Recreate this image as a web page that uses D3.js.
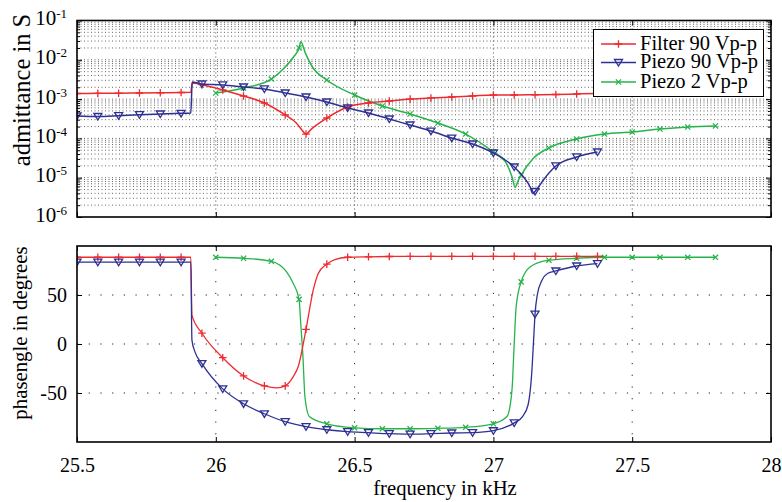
<!DOCTYPE html>
<html>
<head>
<meta charset="utf-8">
<script src="https://cdn.jsdelivr.net/npm/d3@7"></script>
<style>
  body { margin: 0; background: #fff; }
  svg { display: block; }
  svg text { font-family: "Liberation Serif", "Times New Roman", Times, "DejaVu Serif", serif; }
</style>
</head>
<body>
<div id="chart"></div>
<script>
// ---- data ----
var xTicks = [25.5, 26, 26.5, 27, 27.5, 28];
var xTickLabels = ["25.5", "26", "26.5", "27", "27.5", "28"];
var admDecades = [1e-6, 1e-5, 1e-4, 1e-3, 1e-2, 1e-1];
var admExps = ["-6", "-5", "-4", "-3", "-2", "-1"];
var phaseTicks = [-50, 0, 50];

var seriesNames = ["Filter 90 Vp-p", "Piezo 90 Vp-p", "Piezo 2 Vp-p"];
var seriesColors = ["#ee2a2e", "#2e3192", "#27b34b"];

// marker positions (kHz)
var markRB = [25.5, 25.575, 25.65, 25.725, 25.8, 25.875, 25.95, 26.025, 26.1, 26.175,
  26.25, 26.325, 26.4, 26.475, 26.55, 26.625, 26.7, 26.775, 26.85, 26.925,
  27.0, 27.075, 27.15, 27.225, 27.3, 27.375];
var markG = [26.0, 26.1, 26.2, 26.3, 26.4, 26.5, 26.6, 26.7, 26.8, 26.9, 27.0,
  27.1, 27.2, 27.3, 27.4, 27.5, 27.6, 27.7, 27.8];

// Filter 90 Vp-p
var filterAdmF = [25.5, 25.575, 25.65, 25.725, 25.8, 25.875, 25.91, 25.915, 25.95, 26.025,
  26.1, 26.175, 26.25, 26.29, 26.31, 26.325, 26.345, 26.4, 26.475, 26.55, 26.625, 26.7,
  26.775, 26.85, 26.925, 27.0, 27.075, 27.15, 27.225, 27.3, 27.375, 27.395];
var filterAdm = [1.39e-3, 1.40e-3, 1.41e-3, 1.43e-3, 1.45e-3, 1.47e-3, 1.49e-3, 2.57e-3, 2.33e-3, 1.71e-3,
  1.20e-3, 7.96e-4, 3.94e-4, 2.46e-4, 1.64e-4, 1.29e-4, 1.75e-4, 3.30e-4, 6.29e-4, 7.96e-4, 8.95e-4, 1.0e-3,
  1.07e-3, 1.13e-3, 1.20e-3, 1.27e-3, 1.27e-3, 1.29e-3, 1.31e-3, 1.35e-3, 1.39e-3, 1.40e-3];
var filterPhF = [25.5, 25.575, 25.65, 25.725, 25.8, 25.875, 25.91, 25.914, 25.95, 26.025,
  26.1, 26.175, 26.22, 26.25, 26.279, 26.297, 26.325, 26.351, 26.369, 26.4, 26.429, 26.475,
  26.55, 26.625, 26.7, 26.775, 26.85, 26.925, 27.0, 27.075, 27.15, 27.225, 27.3, 27.375, 27.395];
var filterPh = [88.5, 88.5, 88.5, 88.5, 88.5, 88.5, 88.5, 29.5, 11, -14,
  -32.6, -42.7, -44.8, -42.7, -33.3, -23, 15, 55, 72, 81.5, 86.2, 88.5,
  89, 89.3, 89.5, 89.5, 89.5, 89.5, 89.5, 89.5, 89.5, 89.5, 89.5, 89.5, 89.5];

// Piezo 90 Vp-p
var piezo90AdmF = [25.5, 25.575, 25.65, 25.725, 25.8, 25.875, 25.91, 25.915, 25.95, 26.025,
  26.1, 26.175, 26.25, 26.325, 26.4, 26.475, 26.55, 26.625, 26.7, 26.775, 26.85, 26.925,
  27.0, 27.075, 27.108, 27.132, 27.142, 27.15, 27.165, 27.18, 27.225, 27.3, 27.375];
var piezo90Adm = [3.72e-4, 3.61e-4, 3.78e-4, 4.01e-4, 4.18e-4, 4.35e-4, 4.43e-4, 2.72e-3, 2.42e-3, 2.29e-3,
  2.03e-3, 1.81e-3, 1.43e-3, 1.13e-3, 8.43e-4, 5.94e-4, 4.43e-4, 3.12e-4, 2.19e-4, 1.54e-4, 1.02e-4, 7.21e-5,
  4.25e-5, 1.87e-5, 1.06e-5, 5.9e-6, 3.96e-6, 4.46e-6, 6.15e-6, 8.73e-6, 1.99e-5, 3.37e-5, 4.51e-5];
var piezo90PhF = [25.5, 25.575, 25.65, 25.725, 25.8, 25.875, 25.91, 25.914, 25.925, 25.95, 26.025,
  26.1, 26.175, 26.25, 26.325, 26.4, 26.475, 26.55, 26.625, 26.7, 26.775, 26.85, 26.925,
  27.0, 27.075, 27.105, 27.125, 27.138, 27.145, 27.15, 27.158, 27.175, 27.195, 27.225, 27.3, 27.375];
var piezo90Ph = [83.5, 83.5, 83.5, 83.5, 83.5, 83.5, 83.5, 4, -8, -20, -45.8,
  -61, -71.2, -79.3, -84.4, -87.5, -89.5, -90.5, -91.5, -92, -91.5, -90.8, -90.5,
  -88.5, -80.5, -74, -62, -30, 5, 30.5, 50, 65, 72, 74.5, 79.6, 82];

// Piezo 2 Vp-p
var piezo2AdmF = [26.0, 26.1, 26.2, 26.25, 26.28, 26.3, 26.306, 26.323, 26.348, 26.4, 26.5,
  26.6, 26.7, 26.8, 26.9, 27.0, 27.043, 27.067, 27.078, 27.09, 27.1, 27.144, 27.2,
  27.3, 27.4, 27.5, 27.6, 27.7, 27.8];
var piezo2Adm = [1.43e-3, 1.91e-3, 3.24e-3, 6.56e-3, 1.18e-2, 2.0e-2, 2.89e-2, 1.46e-2, 6.56e-3, 3.06e-3, 1.27e-3,
  6.67e-4, 4.18e-4, 2.46e-4, 1.29e-4, 4.51e-5, 2.55e-5, 1.06e-5, 5.7e-6, 8.7e-6, 1.17e-5, 3.12e-5, 5.7e-5,
  9.66e-5, 1.29e-4, 1.45e-4, 1.73e-4, 1.95e-4, 2.07e-4];
var piezo2PhF = [26.0, 26.1, 26.2, 26.255, 26.279, 26.3, 26.306, 26.314, 26.321, 26.337, 26.4,
  26.5, 26.6, 26.7, 26.8, 26.9, 27.0, 27.049, 27.067, 27.074, 27.082, 27.1, 27.132, 27.2,
  27.3, 27.4, 27.5, 27.6, 27.7, 27.8];
var piezo2Ph = [88.5, 87.5, 84.4, 73.5, 61.7, 45.5, 21, -13.5, -53.6, -74, -81.4,
  -85.5, -86.5, -86.5, -86, -85, -81.4, -74, -46.8, -6, 38, 63.4, 78.6, 85.5,
  87.5, 88.5, 88.5, 88.5, 88.5, 88.5];

// ---- layout ----
var width = 782, height = 502;
var left = 77, right = 771;
var topY0 = 20.5, topY1 = 217;
var botY0 = 246, botY1 = 442;

var svg = d3.select("#chart").append("svg")
  .attr("width", width)
  .attr("height", height);

var x = d3.scaleLinear().domain([25.5, 28]).range([left, right]);
var yAdm = d3.scaleLog().domain([1e-6, 1e-1]).range([topY1, topY0]);
var yPh = d3.scaleLinear().domain([-100, 100]).range([botY1, botY0]);

var defs = svg.append("defs");
defs.append("clipPath").attr("id", "clipTop").append("rect")
  .attr("x", left).attr("y", topY0).attr("width", right - left).attr("height", topY1 - topY0);
defs.append("clipPath").attr("id", "clipBot").append("rect")
  .attr("x", left).attr("y", botY0).attr("width", right - left).attr("height", botY1 - botY0);

// ---- grids ----
var minorVals = [];
admDecades.slice(0, -1).forEach(function(d) {
  for (var k = 2; k <= 9; k++) minorVals.push(d * k);
});

var gTop = svg.append("g");
gTop.selectAll(".hg").data(minorVals.concat(admDecades.slice(1, -1)))
  .enter().append("line")
  .attr("x1", left).attr("x2", right)
  .attr("y1", function(d) { return yAdm(d); })
  .attr("y2", function(d) { return yAdm(d); })
  .attr("stroke", "#555").attr("stroke-width", 0.9)
  .attr("stroke-dasharray", "1,2.5");
gTop.selectAll(".vg").data(xTicks.slice(1, -1))
  .enter().append("line")
  .attr("x1", function(d) { return x(d); })
  .attr("x2", function(d) { return x(d); })
  .attr("y1", topY0).attr("y2", topY1)
  .attr("stroke", "#333").attr("stroke-width", 0.9)
  .attr("stroke-dasharray", "1,3");

var gBot = svg.append("g");
gBot.selectAll(".hg").data(phaseTicks)
  .enter().append("line")
  .attr("x1", left).attr("x2", right)
  .attr("y1", function(d) { return yPh(d); })
  .attr("y2", function(d) { return yPh(d); })
  .attr("stroke", "#222").attr("stroke-width", 1)
  .attr("stroke-dasharray", "1.2,10.5");
gBot.selectAll(".vg").data(xTicks.slice(1, -1))
  .enter().append("line")
  .attr("x1", function(d) { return x(d); })
  .attr("x2", function(d) { return x(d); })
  .attr("y1", botY0).attr("y2", botY1)
  .attr("stroke", "#222").attr("stroke-width", 1)
  .attr("stroke-dasharray", "1.2,10.5");

// ---- series ----
var series = [
  { name: seriesNames[0], color: seriesColors[0], admF: filterAdmF, adm: filterAdm, phF: filterPhF, ph: filterPh, marks: markRB, sym: "plus" },
  { name: seriesNames[1], color: seriesColors[1], admF: piezo90AdmF, adm: piezo90Adm, phF: piezo90PhF, ph: piezo90Ph, marks: markRB, sym: "tri" },
  { name: seriesNames[2], color: seriesColors[2], admF: piezo2AdmF, adm: piezo2Adm, phF: piezo2PhF, ph: piezo2Ph, marks: markG, sym: "x" }
];

var symPath = {
  plus: "M-3.8,0H3.8M0,-3.8V3.8",
  tri: "M-4,-3L4,-3L0,3.6Z",
  x: "M-2.6,-2.6L2.6,2.6M-2.6,2.6L2.6,-2.6"
};

function isMark(marks, f) {
  return marks.some(function(m) { return Math.abs(m - f) < 1e-6; });
}

var lineTop = d3.line()
  .x(function(d) { return x(d[0]); })
  .y(function(d) { return yAdm(d[1]); })
  .curve(d3.curveMonotoneX);
var lineBot = d3.line()
  .x(function(d) { return x(d[0]); })
  .y(function(d) { return yPh(d[1]); })
  .curve(d3.curveMonotoneX);

var layerTop = svg.append("g").attr("clip-path", "url(#clipTop)");
var layerBot = svg.append("g").attr("clip-path", "url(#clipBot)");

// green first so red/blue sit on top, like the reference
[2, 0, 1].forEach(function(i) {
  var s = series[i];
  var admPts = s.admF.map(function(f, j) { return [f, s.adm[j]]; });
  var phPts = s.phF.map(function(f, j) { return [f, s.ph[j]]; });

  layerTop.append("path").datum(admPts)
    .attr("d", lineTop)
    .attr("fill", "none").attr("stroke", s.color).attr("stroke-width", 1.5);
  layerBot.append("path").datum(phPts)
    .attr("d", lineBot)
    .attr("fill", "none").attr("stroke", s.color).attr("stroke-width", 1.3);

  layerTop.selectAll(null).data(admPts.filter(function(d) { return isMark(s.marks, d[0]); }))
    .enter().append("path")
    .attr("transform", function(d) { return "translate(" + x(d[0]) + "," + yAdm(d[1]) + ")"; })
    .attr("d", symPath[s.sym])
    .attr("fill", "none").attr("stroke", s.color).attr("stroke-width", 1.3);
  layerBot.selectAll(null).data(phPts.filter(function(d) { return isMark(s.marks, d[0]); }))
    .enter().append("path")
    .attr("transform", function(d) { return "translate(" + x(d[0]) + "," + yPh(d[1]) + ")"; })
    .attr("d", symPath[s.sym])
    .attr("fill", "none").attr("stroke", s.color).attr("stroke-width", 1.3);
});

// ---- axes (ticks inward) ----
function styleAxis(g) {
  g.select(".domain").remove();
  g.selectAll("line").attr("stroke", "#000").attr("stroke-width", 1);
  g.attr("font-family", null).attr("font-size", 20);
  g.selectAll("text").attr("fill", "#000");
}

// top panel
svg.append("g").attr("transform", "translate(0," + topY1 + ")")
  .call(d3.axisBottom(x).tickValues(xTicks).tickSize(-5).tickFormat(""))
  .call(styleAxis);
svg.append("g").attr("transform", "translate(0," + topY0 + ")")
  .call(d3.axisTop(x).tickValues(xTicks).tickSize(-5).tickFormat(""))
  .call(styleAxis);
svg.append("g").attr("transform", "translate(" + left + ",0)")
  .call(d3.axisLeft(yAdm).tickValues(admDecades).tickSize(-5).tickFormat(""))
  .call(styleAxis);
svg.append("g").attr("transform", "translate(" + left + ",0)")
  .call(d3.axisLeft(yAdm).tickValues(minorVals).tickSize(-3).tickFormat(""))
  .call(styleAxis);
svg.append("g").attr("transform", "translate(" + right + ",0)")
  .call(d3.axisRight(yAdm).tickValues(admDecades).tickSize(-5).tickFormat(""))
  .call(styleAxis);
svg.append("g").attr("transform", "translate(" + right + ",0)")
  .call(d3.axisRight(yAdm).tickValues(minorVals).tickSize(-3).tickFormat(""))
  .call(styleAxis);

// log labels 10^n
var admLab = svg.append("g");
admDecades.forEach(function(d, i) {
  var t = admLab.append("text")
    .attr("x", 67).attr("y", yAdm(d) + 4.5)
    .attr("text-anchor", "end")
    .attr("font-size", 21);
  t.append("tspan").text("10");
  t.append("tspan").attr("dy", -7).attr("font-size", 13).text(admExps[i]);
});

// bottom panel
svg.append("g").attr("transform", "translate(0," + botY1 + ")")
  .call(d3.axisBottom(x).tickValues(xTicks).tickSize(-5).tickPadding(16)
    .tickFormat(function(d, i) { return xTickLabels[i]; }))
  .call(styleAxis);
svg.append("g").attr("transform", "translate(0," + botY0 + ")")
  .call(d3.axisTop(x).tickValues(xTicks).tickSize(-5).tickFormat(""))
  .call(styleAxis);
svg.append("g").attr("transform", "translate(" + left + ",0)")
  .call(d3.axisLeft(yPh).tickValues(phaseTicks).tickSize(-5).tickPadding(10)
    .tickFormat(function(d) { return d; }))
  .call(styleAxis);
svg.append("g").attr("transform", "translate(" + right + ",0)")
  .call(d3.axisRight(yPh).tickValues(phaseTicks).tickSize(-5).tickFormat(""))
  .call(styleAxis);

// frames
[[topY0, topY1], [botY0, botY1]].forEach(function(p) {
  svg.append("rect")
    .attr("x", left).attr("y", p[0])
    .attr("width", right - left).attr("height", p[1] - p[0])
    .attr("fill", "none").attr("stroke", "#000").attr("stroke-width", 1.6);
});

// axis titles
svg.append("text")
  .attr("transform", "translate(30,90) rotate(-90)")
  .attr("text-anchor", "middle")
  .attr("font-size", 24.5)
  .text("admittance in S");
svg.append("text")
  .attr("transform", "translate(27,333) rotate(-90)")
  .attr("text-anchor", "middle")
  .attr("font-size", 20.8)
  .text("phasengle in degrees");
svg.append("text")
  .attr("x", 445).attr("y", 495)
  .attr("text-anchor", "middle")
  .attr("font-size", 20.7)
  .text("frequency in kHz");

// ---- legend ----
var leg = svg.append("g");
leg.append("rect")
  .attr("x", 593.5).attr("y", 29.5).attr("width", 170).attr("height", 67)
  .attr("fill", "#fff").attr("stroke", "#000").attr("stroke-width", 1);
var legRows = [44, 62.5, 82];
series.forEach(function(s, i) {
  var yy = legRows[i];
  leg.append("line")
    .attr("x1", 601).attr("x2", 636).attr("y1", yy).attr("y2", yy)
    .attr("stroke", s.color).attr("stroke-width", 1.5);
  leg.append("path")
    .attr("transform", "translate(618.5," + yy + ")")
    .attr("d", symPath[s.sym])
    .attr("fill", "none").attr("stroke", s.color).attr("stroke-width", 1.3);
  leg.append("text")
    .attr("x", 640).attr("y", yy + 5.5)
    .attr("font-size", 20.5)
    .text(s.name);
});
</script>
</body>
</html>
